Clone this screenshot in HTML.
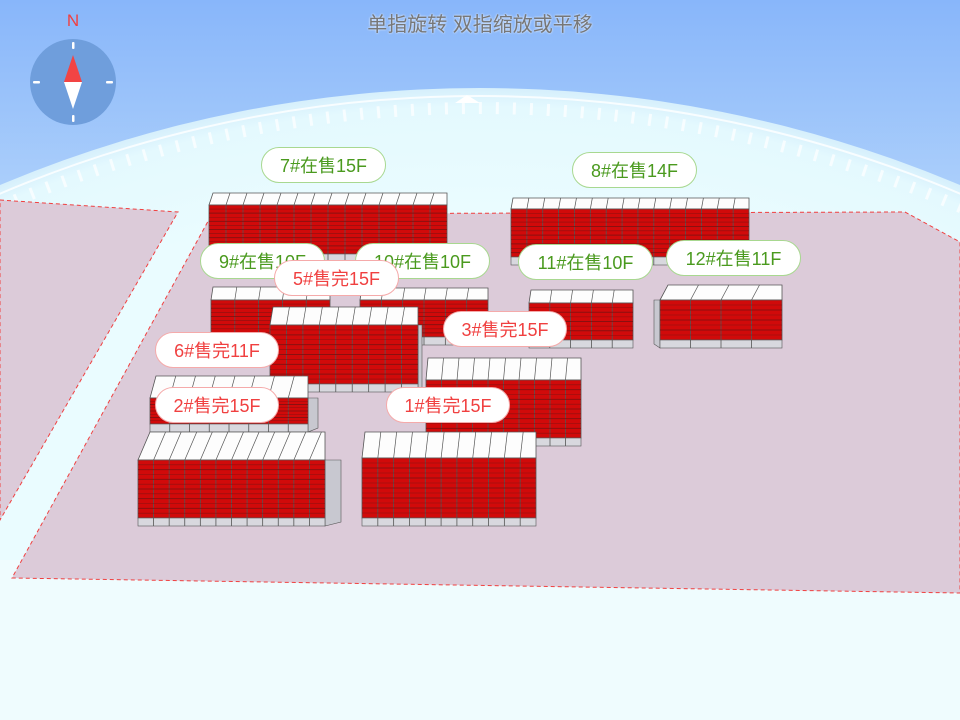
<!DOCTYPE html>
<html><head><meta charset="utf-8"><style>
html,body{margin:0;padding:0;width:960px;height:720px;overflow:hidden;font-family:"Liberation Sans","Noto Sans CJK SC",sans-serif}
#wrap{position:relative;width:960px;height:720px;overflow:hidden}
svg{display:block}
.t{position:absolute;left:0;width:960px;top:8px;text-align:center;font-size:20px;color:#777;text-shadow:0 0 2px #fff}
.p{position:absolute;height:36px;line-height:36px;background:#fff;border-radius:18px;font-size:18px;text-align:center;box-sizing:border-box}
.g{color:#4a9a1e;border:1px solid #a8d890}
.r{color:#f04040;border:1px solid #f5aaaa}
</style></head><body><div id="wrap">
<svg id="s" width="960" height="720" style="position:absolute;left:0;top:0">
<defs>
<linearGradient id="sky" x1="0" y1="0" x2="0" y2="1"><stop offset="0" stop-color="#88b6fa"/><stop offset="0.3" stop-color="#b0d2fb"/><stop offset="0.6" stop-color="#def5fd"/><stop offset="1" stop-color="#effcfe"/></linearGradient>
<radialGradient id="dome" cx="480" cy="1324" r="1236" gradientUnits="userSpaceOnUse"><stop offset="0.9" stop-color="#eafcff"/><stop offset="0.985" stop-color="#e4f9fe"/><stop offset="1" stop-color="#d6effc"/></radialGradient>
</defs>
<rect width="960" height="720" fill="url(#sky)"/>
<circle cx="480" cy="1324" r="1236" fill="url(#dome)"/>
<circle cx="480" cy="1324" r="1216" fill="none" stroke="#fff" stroke-width="12" stroke-dasharray="3 14" opacity="0.7"/>
<circle cx="480" cy="1324" r="1228" fill="none" stroke="#fff" stroke-width="2" opacity="0.8"/>
<path d="M455 103 L480 103 L467 95Z" fill="#fff"/>
<rect x="0" y="560" width="960" height="160" fill="#effcfe"/>
<polygon points="0,200 178,212 0,520" fill="#dccbd9" stroke="#f04040" stroke-dasharray="4 3"/>
<polygon points="212,214 905,212 960,242 960,593 12,578" fill="#dccbd9" stroke="#f04040" stroke-dasharray="4 3"/>
<circle cx="73" cy="82" r="43" fill="#6f9edc"/>
<polygon points="73,55 64,82 82,82" fill="#f24444"/>
<polygon points="73,109 64,82 82,82" fill="#fff"/>
<g fill="#fff"><rect x="72" y="42" width="2.5" height="7" rx="1"/><rect x="72" y="115" width="2.5" height="7" rx="1"/><rect x="33" y="81" width="7" height="2.5" rx="1"/><rect x="106" y="81" width="7" height="2.5" rx="1"/></g>
<text x="73" y="26" text-anchor="middle" font-size="17" fill="#f04040" font-family="Liberation Sans">N</text>
<g id="b"></g>
</svg>
<div class="t">单指旋转 双指缩放或平移</div>
<div class="p g" style="left:261px;top:147px;width:125px">7#在售15F</div>
<div class="p g" style="left:572px;top:152px;width:125px">8#在售14F</div>
<div class="p g" style="left:200px;top:243px;width:125px">9#在售10F</div>
<div class="p g" style="left:355px;top:243px;width:135px">10#在售10F</div>
<div class="p r" style="left:274px;top:260px;width:125px">5#售完15F</div>
<div class="p g" style="left:518px;top:244px;width:135px">11#在售10F</div>
<div class="p g" style="left:666px;top:240px;width:135px">12#在售11F</div>
<div class="p r" style="left:443px;top:311px;width:124px">3#售完15F</div>
<div class="p r" style="left:155px;top:332px;width:124px">6#售完11F</div>
<div class="p r" style="left:155px;top:387px;width:124px">2#售完15F</div>
<div class="p r" style="left:386px;top:387px;width:124px">1#售完15F</div>
</div>
<script>
var g=document.getElementById('b'),h='';
function B(x1,x2,ty,fy,by,cols,rows,sl,side){
 if(side>0){h+='<polygon points="'+x2+','+fy+' '+(x2+side)+','+fy+' '+(x2+side)+','+(by-4)+' '+x2+','+by+'" fill="#c8c8d0" stroke="#555" stroke-width="0.6"/>';}
 if(side<0){h+='<polygon points="'+x1+','+fy+' '+(x1+side)+','+fy+' '+(x1+side)+','+(by-4)+' '+x1+','+by+'" fill="#c8c8d0" stroke="#555" stroke-width="0.6"/>';}
 h+='<polygon points="'+x1+','+fy+' '+(x1+sl)+','+ty+' '+(x2)+','+ty+' '+x2+','+fy+'" fill="#fdfdfd" stroke="#555" stroke-width="0.8"/>';
 var gb=by-8;
 h+='<rect x="'+x1+'" y="'+fy+'" width="'+(x2-x1)+'" height="'+(gb-fy)+'" fill="#d10a0a" stroke="#555" stroke-width="0.8"/>';
 h+='<rect x="'+x1+'" y="'+gb+'" width="'+(x2-x1)+'" height="8" fill="#d8d8de" stroke="#555" stroke-width="0.6"/>';
 var cw=(x2-x1)/cols;
 for(var i=1;i<cols;i++){var x=x1+i*cw;h+='<line x1="'+x+'" y1="'+by+'" x2="'+x+'" y2="'+fy+'" stroke="#555" stroke-width="0.8"/><line x1="'+x+'" y1="'+fy+'" x2="'+(x+sl)+'" y2="'+ty+'" stroke="#555" stroke-width="0.7"/>';}
 var rh=(gb-fy)/rows;
 for(var j=1;j<rows;j++){var y=fy+j*rh;h+='<line x1="'+x1+'" y1="'+y+'" x2="'+x2+'" y2="'+y+'" stroke="#8a1010" stroke-width="'+(j%2?0.6:1)+'"/>';}
}
B(209,447,193,205,262,14,12,4,0);
B(511,749,198,209,265,15,11,2,0);
B(211,330,287,300,345,5,9,2,0);
B(360,488,288,300,345,6,9,2,0);
B(529,633,290,303,348,5,8,2,0);
B(660,782,285,300,348,4,8,8,-6);
B(270,418,307,325,392,9,12,3,4);
B(426,581,358,380,446,10,12,2,0);
B(150,308,376,398,432,8,8,6,10);
B(138,325,432,460,526,12,12,12,16);
B(362,536,432,458,526,11,12,3,0);
g.innerHTML=h;
</script>
</body></html>
